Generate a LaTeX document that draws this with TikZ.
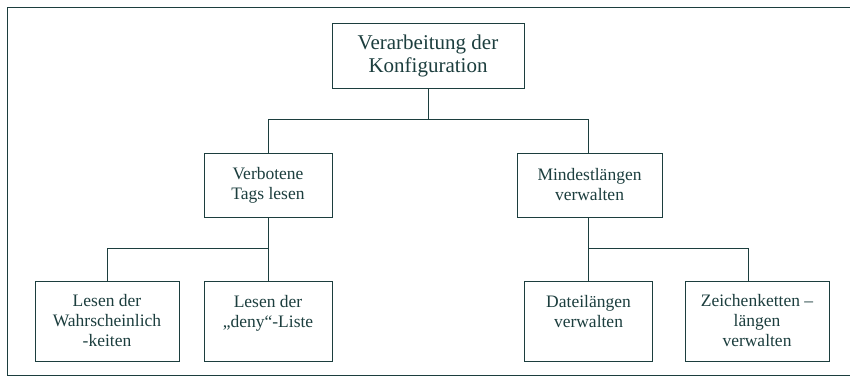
\documentclass[tikz,border=0pt]{standalone}
\usepackage{fontspec}
\setmainfont{Liberation Serif}
\definecolor{ink}{RGB}{28,62,62}
\begin{document}
\begin{tikzpicture}[x=1pt,y=-1pt,
  every path/.style={line width=0.9pt},
  box/.style={draw=ink, text=ink, rectangle, inner sep=0pt, align=center},
  topbox/.style={box, font=\fontsize{21}{23}\selectfont, minimum width=192pt, minimum height=65pt},
  midbox/.style={box, font=\fontsize{17.5}{20}\selectfont, minimum height=64pt},
  lowbox/.style={box, font=\fontsize{17.5}{20}\selectfont, minimum height=80pt},
  link/.style={draw=ink}]
\useasboundingbox (0,0) rectangle (850,376);
\fill[white] (0,0) rectangle (850,376);
% surrounding frame (open on the right)
\draw[link] (850,7) -- (7,7) -- (7,375) -- (850,375);

% boxes
\node[topbox] (root) at (428,55.5) {Verarbeitung der\\Konfiguration};
\node[midbox, minimum width=128pt] (verb) at (268,185) {Verbotene\\Tags lesen};
\node[midbox, minimum width=145pt] (mind) at (589.5,185) {Mindestlängen\\verwalten};
\node[lowbox, minimum width=144pt] (lw) at (107,321) {Lesen der\\Wahrscheinlich\\-keiten};
\node[lowbox, minimum width=128pt] (deny) at (268,321) {Lesen der\\„deny“-Liste\\\mbox{}};
\node[lowbox, minimum width=128pt] (datei) at (588.5,321) {Dateilängen\\verwalten\\\mbox{}};
\node[lowbox, minimum width=144pt] (zeich) at (757,321) {Zeichenketten –\\längen\\verwalten};

% junction points of the tree
\coordinate (j1) at (428,119);
\coordinate (j2) at (268,248);
\coordinate (j3) at (588.5,248);
\coordinate (zn) at ([xshift=-9pt]zeich.north);

% connectors
\draw[link] (root.south) -- (j1);
\draw[link] (verb.north) -- (verb.north |- j1) -- (datei.north |- j1) -- (datei.north |- mind.north);
\draw[link] (verb.south) -- (deny.north);
\draw[link] (lw.north) |- (j2);
\draw[link] (datei.north |- mind.south) -- (datei.north);
\draw[link] (zn) |- (j3);
\end{tikzpicture}
\end{document}
